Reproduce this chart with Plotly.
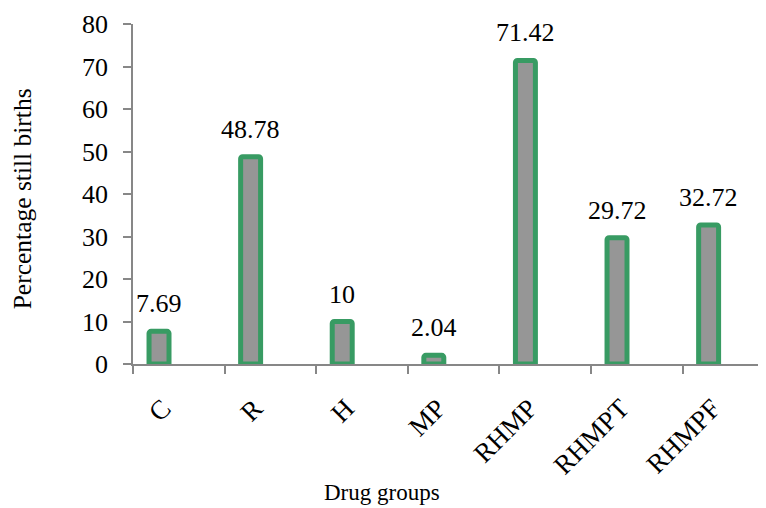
import plotly.graph_objects as go

categories = ["C", "R", "H", "MP", "RHMP", "RHMPT", "RHMPF"]
values = [7.69, 48.78, 10, 2.04, 71.42, 29.72, 32.72]
value_labels = ["7.69", "48.78", "10", "2.04", "71.42", "29.72", "32.72"]
y_ticks = [0, 10, 20, 30, 40, 50, 60, 70, 80]

FONT = "Liberation Serif, Times New Roman, serif"
GREEN = "#389b63"
GRAY = "#969696"
AXIS = "#878787"

xpos = list(range(len(categories)))
offset = 0.284

fig = go.Figure()
fig.add_trace(go.Bar(
    x=xpos, y=values, width=0.218,
    marker=dict(color=GRAY, line=dict(color=GREEN, width=5)),
    showlegend=False, hoverinfo="skip",
))

for xi, v, t in zip(xpos, values, value_labels):
    fig.add_annotation(x=xi, y=v, text=t, showarrow=False, xanchor="center",
                       yanchor="bottom", yshift=11,
                       font=dict(family=FONT, size=26, color="black"))

fig.add_annotation(xref="paper", yref="paper", x=0.394, y=-0.378, text="Drug groups",
                   showarrow=False, xanchor="center", yanchor="middle",
                   font=dict(family=FONT, size=23, color="black"))
fig.add_annotation(xref="paper", yref="paper", x=-0.175, y=0.485, text="Percentage still births",
                   showarrow=False, textangle=-90, xanchor="center", yanchor="middle",
                   font=dict(family=FONT, size=25.5, color="black"))

fig.update_layout(
    width=758, height=500,
    margin=dict(l=125, r=0, t=16, b=144),
    paper_bgcolor="white", plot_bgcolor="white",
    barcornerradius=2,
    font=dict(family=FONT, color="black"),
)
fig.update_xaxes(
    range=[-offset, -offset + 633 / 91.6],
    tickmode="array", tickvals=xpos, ticktext=categories,
    tickangle=-45, ticks="", ticklabelstandoff=16, ticklabelshift=4,
    tickfont=dict(family=FONT, size=27, color="black"),
    showline=True, linecolor=AXIS, linewidth=1.5,
    showgrid=False, zeroline=False,
    minor=dict(tickmode="linear", tick0=-offset, dtick=1, ticks="outside",
               ticklen=8, tickcolor=AXIS, tickwidth=1.5, showgrid=False),
)
fig.update_yaxes(
    range=[0, 80], tickmode="array", tickvals=y_ticks,
    ticks="outside", ticklen=8, tickcolor=AXIS, tickwidth=1.5,
    ticklabelstandoff=10,
    tickfont=dict(family=FONT, size=26, color="black"),
    showline=True, linecolor=AXIS, linewidth=1.5,
    showgrid=False, zeroline=False,
)

fig.write_html("out.html")
